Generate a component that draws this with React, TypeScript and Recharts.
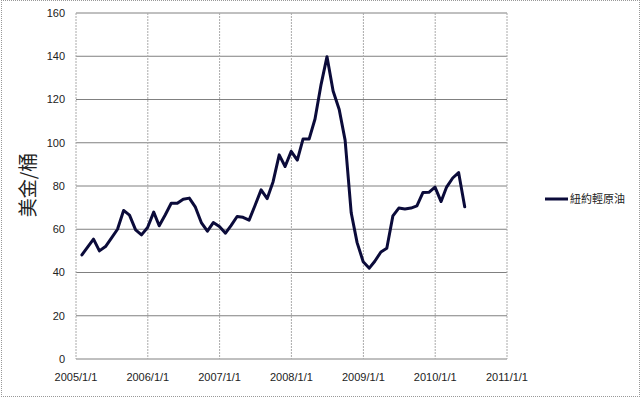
import React from 'react';
import { LineChart, Line, XAxis, YAxis, CartesianGrid, Legend } from 'recharts';

const seriesName = '紐約輕原油';
const yAxisTitle = '美金/桶';
const startYear = 2005;
// month-end prices, Jan 2005 .. May 2010
const prices = [
  48.1, 51.6, 55.4, 50.0, 52.0, 55.9, 60.0, 68.7, 66.5, 59.7, 57.4, 60.8,
  67.9, 61.6, 66.7, 72.0, 72.0, 73.9, 74.4, 70.2, 63.1, 59.1, 63.1, 61.3,
  58.2, 61.7, 65.9, 65.5, 64.2, 71.0, 78.2, 74.2, 82.0, 94.4, 89.0, 96.0,
  92.0, 101.7, 101.7, 111.0, 127.0, 139.8, 123.9, 115.4, 101.2, 67.6, 53.8, 45.0,
  42.0, 45.2, 49.5, 51.2, 66.2, 69.8, 69.4, 69.8, 70.8, 77.0, 77.1, 79.5,
  72.8, 79.5, 83.7, 86.2, 70.4,
];
const yearTicks = [2005, 2006, 2007, 2008, 2009, 2010, 2011];
const valueTicks = [0, 20, 40, 60, 80, 100, 120, 140, 160];

const data = prices.map((p, i) => ({ date: Date.UTC(startYear, i + 1, 0), price: p }));
const xTicks = yearTicks.map((y) => Date.UTC(y, 0, 1));

const FONT = '"Liberation Sans", Arial, sans-serif';
const LINE_COLOR = '#0b0b3a';

export default function App() {
  return (
    <div style={{ position: 'absolute', left: 0, top: 0, width: 640, height: 398, background: '#fff' }}>
      <div
        style={{
          position: 'absolute',
          left: 1,
          top: 0,
          width: 639,
          height: 397,
          border: '1px dotted #999',
          boxSizing: 'border-box',
        }}
      />
      <div style={{ position: 'absolute', left: 0, top: 0 }}>
        <LineChart width={640} height={398} data={data} margin={{ top: 13, right: 133, bottom: 9, left: 0 }}>
          <CartesianGrid vertical={false} stroke="#808080" />
          <CartesianGrid horizontal={false} stroke="#aaa" strokeDasharray="2 1" />
          <XAxis
            dataKey="date"
            type="number"
            domain={[xTicks[0], xTicks[xTicks.length - 1]]}
            ticks={xTicks}
            tickFormatter={(t: number) => `${new Date(t).getUTCFullYear()}/1/1`}
            tickSize={0}
            tickMargin={14}
            height={30}
            axisLine={false}
            tick={{ fill: '#222', fontSize: 11, fontFamily: FONT }}
            allowDataOverflow
          />
          <YAxis
            domain={[0, 160]}
            ticks={valueTicks}
            width={76}
            tickSize={0}
            tickMargin={11}
            axisLine={false}
            tick={{ fill: '#222', fontSize: 11, fontFamily: FONT }}
            label={{
              content: (props: any) => {
                const vb = props.viewBox || { x: 0, y: 13, width: 76, height: 346 };
                const cx = vb.x + 26;
                const cy = vb.y + vb.height / 2 - 1;
                return (
                  <text
                    x={cx}
                    y={cy}
                    transform={`rotate(-90, ${cx}, ${cy})`}
                    textAnchor="middle"
                    dominantBaseline="central"
                    fontSize={19}
                    fill="#222"
                    fontFamily='"Noto Sans CJK TC", "Noto Sans CJK SC", sans-serif'
                  >
                    {yAxisTitle}
                  </text>
                );
              },
            }}
          />
          <Legend
            layout="horizontal"
            verticalAlign="middle"
            align="center"
            wrapperStyle={{ left: 540, top: 190, width: 100, height: 20 }}
            content={() => (
              <svg width={100} height={20}>
                <line x1={5} x2={28} y1={9} y2={9} stroke={LINE_COLOR} strokeWidth={3} />
                <text
                  x={30}
                  y={9}
                  dy="0.35em"
                  fontSize={11}
                  fill="#222"
                  fontFamily='"Noto Sans CJK TC", "Noto Sans CJK SC", sans-serif'
                >
                  {seriesName}
                </text>
              </svg>
            )}
          />
          <Line
            type="linear"
            dataKey="price"
            name={seriesName}
            stroke={LINE_COLOR}
            strokeWidth={3}
            strokeLinejoin="round"
            strokeLinecap="round"
            dot={false}
            isAnimationActive={false}
          />
        </LineChart>
      </div>
    </div>
  );
}
